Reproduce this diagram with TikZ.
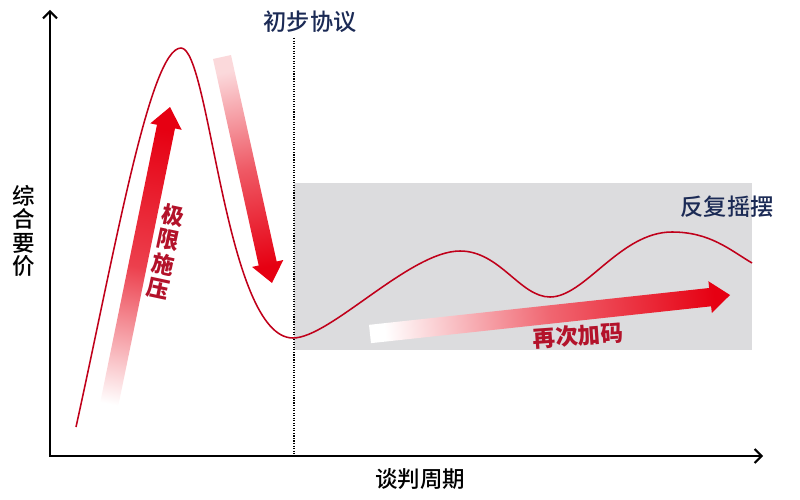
\documentclass[tikz,border=0pt]{standalone}
\usepackage{fontspec}
\setmainfont{Noto Sans CJK SC}
\newfontfamily\cjkmed{Noto Sans CJK SC Medium}
\usepackage{xcolor}
\usepackage{tikz}
\usetikzlibrary{arrows.meta, calc}
\definecolor{pushred}{HTML}{E60012}
\definecolor{curvered}{HTML}{C0001A}
\definecolor{labelred}{HTML}{B3122A}
\definecolor{dealnavy}{HTML}{1B2A55}
\definecolor{zonegray}{HTML}{DCDCDE}
% #1 shading, #2 name, #3 tail, #4 tip
\newcommand{\fatarrow}[4]{%
  \coordinate (#2-neck) at ($(#4)!0.5cm!(#3)$);
  \shade[#1] ($(#3)!0.23cm!90:(#4)$) -- ($(#2-neck)!0.23cm!90:(#4)$)
    -- ($(#2-neck)!0.4cm!90:(#4)$) -- (#4)
    -- ($(#2-neck)!0.4cm!-90:(#4)$) -- ($(#2-neck)!0.23cm!-90:(#4)$)
    -- ($(#3)!0.23cm!-90:(#4)$) -- cycle;
}

\begin{document}
\begin{tikzpicture}[
  x=0.025cm, y=-0.025cm,
  axisline/.style={line width=1.4pt,
    {Straight Barb[length=5pt, width=10pt]}-{Straight Barb[length=5pt, width=10pt]}},
  wave/.style={line width=1.1pt, curvered},
  cut/.style={densely dotted, line width=0.8pt},
  zone/.style={fill=zonegray},
  cue/.style={font=\cjkmed\fontsize{16.5}{18}\selectfont, text=dealnavy},
  axlab/.style={font=\cjkmed\fontsize{16}{16.5}\selectfont, align=center},
  push/.style={font=\bfseries\fontsize{16}{17.5}\selectfont, text=labelred, align=center},
]
  \useasboundingbox (0,0) rectangle (800,499);

  %% Axes
  \coordinate (origin) at (50,456);
  \coordinate (ytop) at (50,10);
  \coordinate (xend) at (763,456);
  \draw[axisline] (ytop) -- (origin) -- (xend);

  %% Swing zone and first deal
  \fill[zone] (294,183) rectangle (752,350);
  \coordinate (cuttop) at (294,38);
  \coordinate (cutbot) at (294,456);
  \draw[cut] (cuttop) -- (cutbot);

  %% Pressure arrows
  \coordinate (upT) at (105,425);
  \coordinate (upH) at (170,107);
  \fatarrow{bottom color=white, top color=pushred, middle color=pushred!75,
    shading angle=-11}{up}{upT}{upH}
  \coordinate (downT) at (222,57);
  \coordinate (downH) at (272,283);
  \fatarrow{top color=pushred!15, bottom color=pushred, middle color=pushred!65,
    shading angle=12}{down}{downT}{downH}
  \coordinate (againT) at (370,334);
  \coordinate (againH) at (730,295);
  \fatarrow{left color=white, right color=pushred, middle color=pushred!60,
    shading angle=96}{again}{againT}{againH}

  %% Demand curve
  \draw[wave] (76,427) .. controls (115,250) and (150,48) .. (181,48)
    .. controls (210,48) and (225,338) .. (293,338)
    .. controls (330,338) and (410,251) .. (460,251)
    .. controls (500,251) and (520,297) .. (550,297)
    .. controls (585,297) and (620,232) .. (672,232)
    .. controls (710,232) and (730,250) .. (752,263);

  %% Labels
  \node[cue] (deal) at (310,22) {初步协议};
  \node[cue] (swing) at (727,207) {反复摇摆};
  \node[axlab] (ylab) at (24,231) {综\\合\\要\\价};
  \node[axlab] (xlab) at (420,479) {谈判周期};
  \node[push, rotate=-12] (squeeze) at (166,252) {极\\限\\施\\压};
  \node[push, rotate=4] (raise) at (578,336) {再次加码};
\end{tikzpicture}
\end{document}
